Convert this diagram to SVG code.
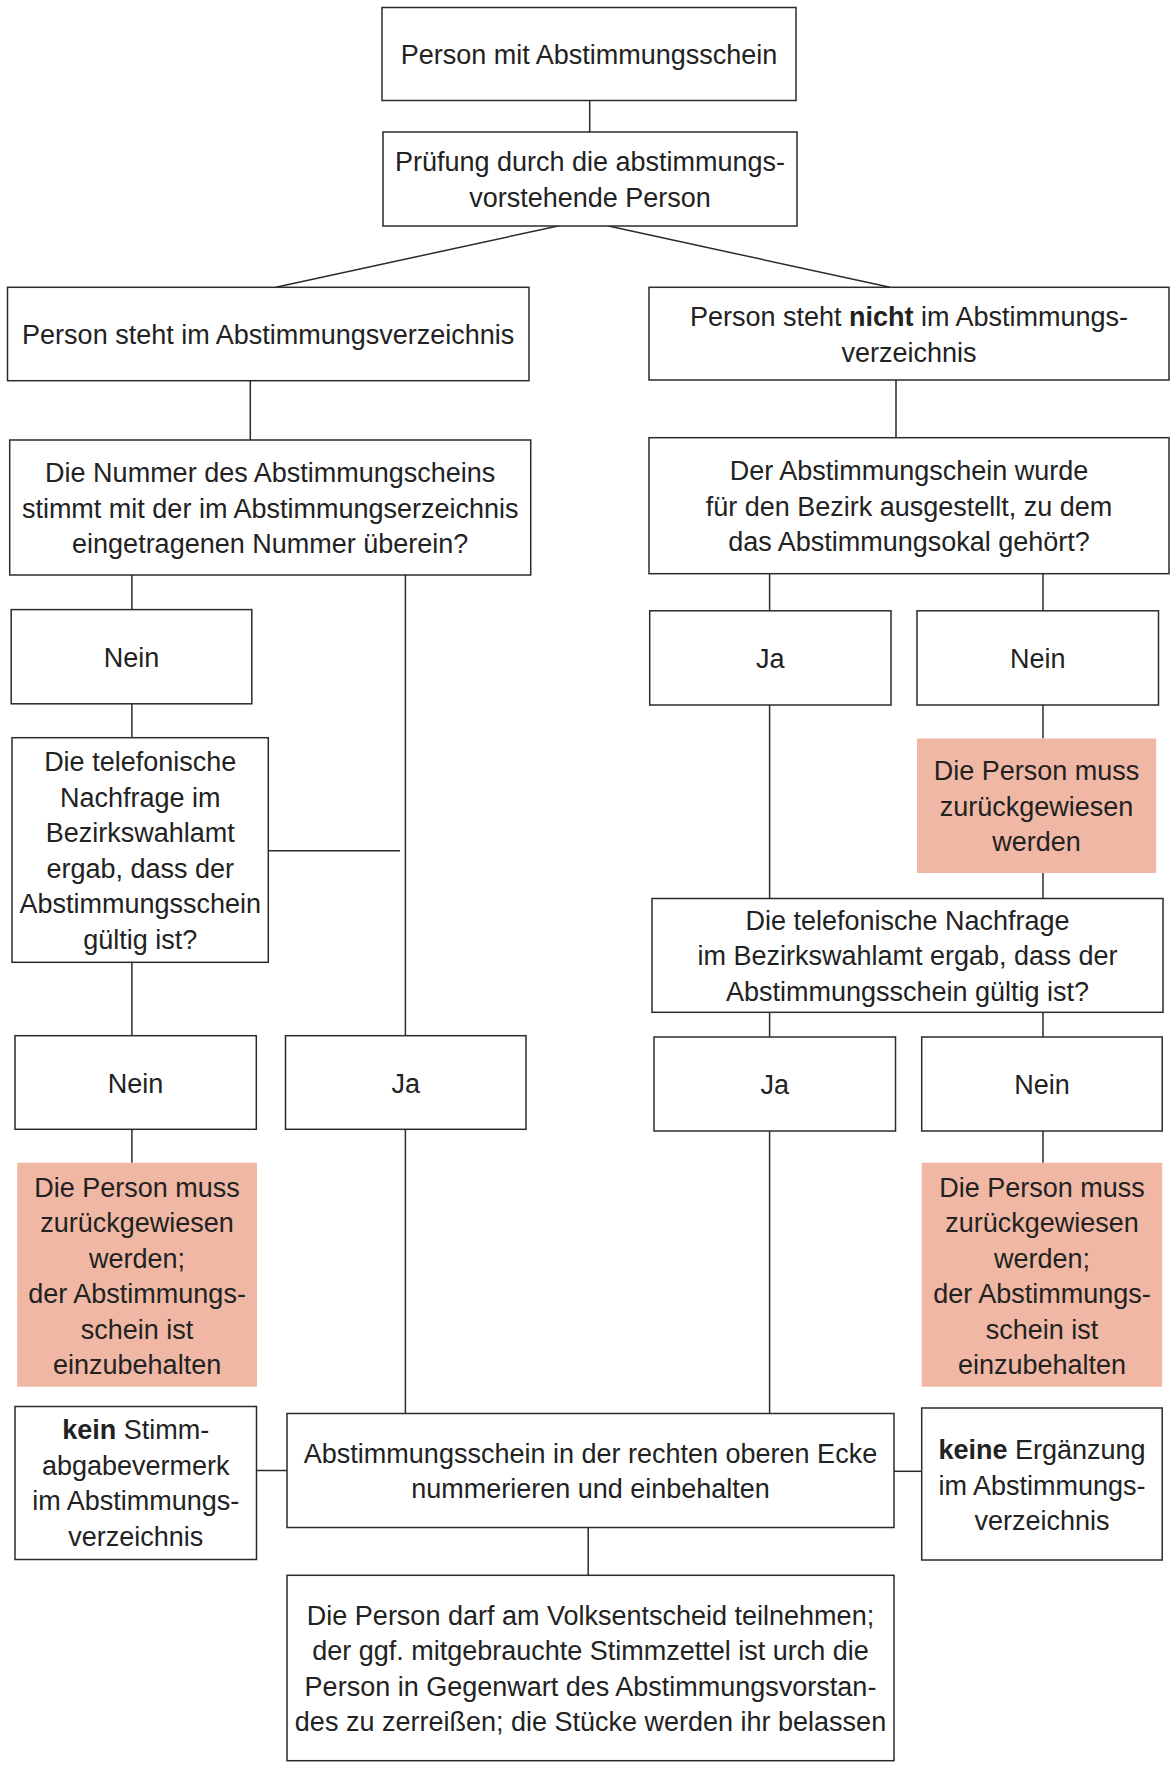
<svg xmlns="http://www.w3.org/2000/svg" width="1175" height="1770" viewBox="0 0 1175 1770">
<style>
.b{fill:#fff;stroke:#2b2b2b;stroke-width:1.5}
.p{fill:#F0B8A4;stroke:none}
.c line{stroke:#2b2b2b;stroke-width:1.5;fill:none}
text{font-family:"Liberation Sans",Arial,sans-serif;font-size:27px;fill:#222;text-anchor:middle}
.k{font-weight:bold}
</style>
<rect width="1175" height="1770" fill="#fff"/>
<g id="connectors" class="c">
<line x1="589.7" y1="100.5" x2="589.7" y2="132"/>
<line x1="559.3" y1="225.7" x2="275.8" y2="287.3"/>
<line x1="607.3" y1="225.7" x2="890" y2="287.3"/>
<line x1="250.3" y1="380.7" x2="250.3" y2="440"/>
<line x1="896" y1="380" x2="896" y2="437.7"/>
<line x1="131.9" y1="575" x2="131.9" y2="609.6"/>
<line x1="405.4" y1="575" x2="405.4" y2="1035.7"/>
<line x1="131.9" y1="703.8" x2="131.9" y2="737.7"/>
<line x1="268.3" y1="850.8" x2="400" y2="850.8"/>
<line x1="769.6" y1="573.8" x2="769.6" y2="610.8"/>
<line x1="1043" y1="573.8" x2="1043" y2="610.8"/>
<line x1="769.6" y1="705" x2="769.6" y2="898.5"/>
<line x1="1043" y1="705" x2="1043" y2="738.5"/>
<line x1="1043" y1="873" x2="1043" y2="898.5"/>
<line x1="769.6" y1="1012.3" x2="769.6" y2="1037"/>
<line x1="1043" y1="1012.3" x2="1043" y2="1037"/>
<line x1="131.9" y1="962.3" x2="131.9" y2="1035.7"/>
<line x1="131.9" y1="1129.3" x2="131.9" y2="1162.7"/>
<line x1="1043" y1="1131" x2="1043" y2="1162.7"/>
<line x1="405.4" y1="1129.3" x2="405.4" y2="1413.5"/>
<line x1="769.6" y1="1131" x2="769.6" y2="1413.5"/>
<line x1="256.5" y1="1470.5" x2="287" y2="1470.5"/>
<line x1="894" y1="1471.3" x2="921.7" y2="1471.3"/>
<line x1="588.2" y1="1527.5" x2="588.2" y2="1575.3"/>
</g>
<g id="n1"><rect class="b" x="382" y="7.5" width="414" height="93"/><text x="589" y="64">Person mit Abstimmungsschein</text></g>
<g id="n2"><rect class="b" x="383" y="132" width="414" height="94"/><text x="590" y="171.3">Prüfung durch die abstimmungs-</text><text x="590" y="206.8">vorstehende Person</text></g>
<g id="n3"><rect class="b" x="7.5" y="287.3" width="521.5" height="93.4"/><text x="268.2" y="344">Person steht im Abstimmungsverzeichnis</text></g>
<g id="n4"><rect class="b" x="649" y="287.3" width="520" height="92.7"/><text x="909" y="326">Person steht <tspan class="k">nicht</tspan> im Abstimmungs-</text><text x="909" y="361.5">verzeichnis</text></g>
<g id="n5"><rect class="b" x="9.7" y="440" width="521" height="135"/><text x="270.2" y="482">Die Nummer des Abstimmungscheins</text><text x="270.2" y="517.5">stimmt mit der im Abstimmungserzeichnis</text><text x="270.2" y="553">eingetragenen Nummer überein?</text></g>
<g id="n6"><rect class="b" x="649" y="437.7" width="520" height="136"/><text x="909" y="480.2">Der Abstimmungschein wurde</text><text x="909" y="515.7">für den Bezirk ausgestellt, zu dem</text><text x="909" y="551.2">das Abstimmungsokal gehört?</text></g>
<g id="n7"><rect class="b" x="11.2" y="609.6" width="240.6" height="94.2"/><text x="131.5" y="666.7">Nein</text></g>
<g id="n8"><rect class="b" x="12" y="737.7" width="256.3" height="224.6"/><text x="140.2" y="771.3">Die telefonische</text><text x="140.2" y="806.8">Nachfrage im</text><text x="140.2" y="842.3">Bezirkswahlamt</text><text x="140.2" y="877.8">ergab, dass der</text><text x="140.2" y="913.3">Abstimmungsschein</text><text x="140.2" y="948.8">gültig ist?</text></g>
<g id="n9"><rect class="b" x="649.7" y="610.8" width="241.3" height="94.2"/><text x="770.3" y="668">Ja</text></g>
<g id="n10"><rect class="b" x="917" y="610.8" width="241.5" height="94.2"/><text x="1037.8" y="668">Nein</text></g>
<g id="n11"><rect class="p" x="917" y="738.5" width="239.2" height="134.5"/><text x="1036.6" y="780.3">Die Person muss</text><text x="1036.6" y="815.8">zurückgewiesen</text><text x="1036.6" y="851.3">werden</text></g>
<g id="n12"><rect class="b" x="652" y="898.5" width="511" height="113.8"/><text x="907.5" y="929.9">Die telefonische Nachfrage</text><text x="907.5" y="965.4">im Bezirkswahlamt ergab, dass der</text><text x="907.5" y="1000.9">Abstimmungsschein gültig ist?</text></g>
<g id="n13"><rect class="b" x="15" y="1035.7" width="241.3" height="93.6"/><text x="135.6" y="1092.5">Nein</text></g>
<g id="n14"><rect class="b" x="285.5" y="1035.7" width="240.5" height="93.6"/><text x="405.7" y="1092.5">Ja</text></g>
<g id="n15"><rect class="b" x="654" y="1037" width="241.5" height="94"/><text x="774.7" y="1094">Ja</text></g>
<g id="n16"><rect class="b" x="921.7" y="1037" width="240.5" height="94"/><text x="1042" y="1094">Nein</text></g>
<g id="n17"><rect class="p" x="17.2" y="1162.7" width="239.8" height="224"/><text x="137.1" y="1196.5">Die Person muss</text><text x="137.1" y="1232">zurückgewiesen</text><text x="137.1" y="1267.5">werden;</text><text x="137.1" y="1303">der Abstimmungs-</text><text x="137.1" y="1338.5">schein ist</text><text x="137.1" y="1374">einzubehalten</text></g>
<g id="n18"><rect class="p" x="921.7" y="1162.7" width="240.5" height="224"/><text x="1042" y="1196.5">Die Person muss</text><text x="1042" y="1232">zurückgewiesen</text><text x="1042" y="1267.5">werden;</text><text x="1042" y="1303">der Abstimmungs-</text><text x="1042" y="1338.5">schein ist</text><text x="1042" y="1374">einzubehalten</text></g>
<g id="n19"><rect class="b" x="15" y="1406.5" width="241.5" height="153"/><text x="135.7" y="1439"><tspan class="k">kein</tspan> Stimm-</text><text x="135.7" y="1474.5">abgabevermerk</text><text x="135.7" y="1510">im Abstimmungs-</text><text x="135.7" y="1545.5">verzeichnis</text></g>
<g id="n20"><rect class="b" x="287" y="1413.5" width="607" height="114"/><text x="590.5" y="1462.8">Abstimmungsschein in der rechten oberen Ecke</text><text x="590.5" y="1498.3">nummerieren und einbehalten</text></g>
<g id="n21"><rect class="b" x="921.7" y="1408" width="240.5" height="152"/><text x="1042" y="1459"><tspan class="k">keine</tspan> Ergänzung</text><text x="1042" y="1494.5">im Abstimmungs-</text><text x="1042" y="1530">verzeichnis</text></g>
<g id="n22"><rect class="b" x="287" y="1575.3" width="607" height="185.4"/><text x="590.5" y="1624.8">Die Person darf am Volksentscheid teilnehmen;</text><text x="590.5" y="1660.3">der ggf. mitgebrauchte Stimmzettel ist urch die</text><text x="590.5" y="1695.8">Person in Gegenwart des Abstimmungsvorstan-</text><text x="590.5" y="1731.3">des zu zerreißen; die Stücke werden ihr belassen</text></g>
</svg>
